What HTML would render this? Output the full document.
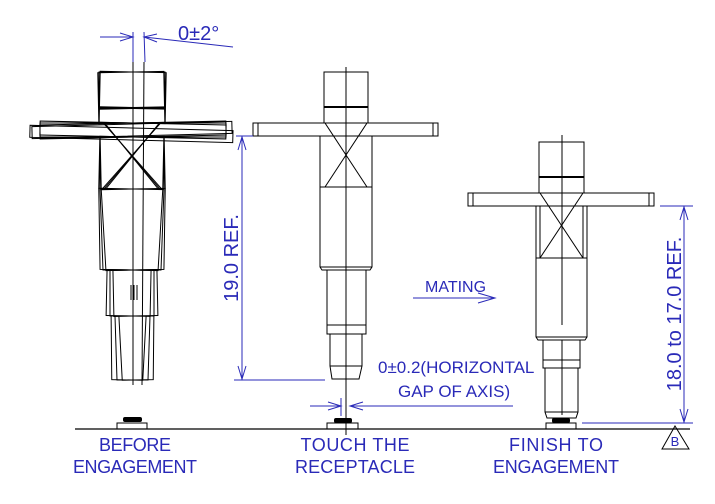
<!DOCTYPE html>
<html><head><meta charset="utf-8"><style>
html,body{margin:0;padding:0;background:#fff;}
svg{display:block;}
text{font-family:"Liberation Sans",sans-serif;fill:#2a2ab8;}
</style></head><body>
<svg width="715" height="504" viewBox="0 0 715 504" xmlns="http://www.w3.org/2000/svg">
<defs>
<g id="lc" fill="none" stroke="#000" stroke-width="1">
  <rect x="99" y="72" width="66" height="51"/>
  <line x1="99" y1="108" x2="165" y2="108" stroke-width="2"/>
  <rect x="40" y="123" width="186" height="14"/>
  <rect x="100" y="137" width="64" height="52"/>
  <line x1="104" y1="123" x2="160" y2="189"/>
  <line x1="160" y1="123" x2="104" y2="189"/>
  <path d="M100 189 L103 270 L161 270 L164 189"/>
  <rect x="110" y="270" width="44" height="46"/>
  <path d="M115 316 L117 380 L148 380 L150 316"/>
</g>
</defs>
<line x1="75" y1="429" x2="690" y2="429" stroke="#000" stroke-width="1.2"/>

<!-- LEFT connector -->
<use href="#lc" transform="rotate(-1.2 133 130)"/>
<use href="#lc" transform="rotate(1.2 133 130)"/>
<use href="#lc"/>
<g stroke="#000" fill="none" stroke-width="1">
  <rect x="30" y="128" width="203" height="12" transform="rotate(1.5 133 130)"/>
  <rect x="32" y="124" width="200" height="12" transform="rotate(-1.5 133 130)"/>
  <line x1="133" y1="62" x2="133" y2="385"/>
  <line x1="144" y1="62" x2="142" y2="385"/>
  <line x1="131" y1="285" x2="131" y2="300"/>
  <line x1="134" y1="285" x2="134" y2="300"/>
  <line x1="137" y1="285" x2="137" y2="300"/>
  <rect x="117" y="423" width="30" height="6"/>
</g>
<rect x="123" y="417" width="19" height="5" rx="2" fill="#000"/>
<g stroke="#2a2ab8" fill="none" stroke-width="1">
  <line x1="133" y1="32" x2="133" y2="62"/>
  <line x1="144" y1="32" x2="145" y2="62"/>
  <line x1="100" y1="37" x2="133" y2="37"/>
  <path d="M120 33 L133 37 L120 41"/>
  <line x1="144" y1="37" x2="233" y2="47"/>
  <path d="M157 34 L144 37 L157 42"/>
</g>
<text x="178" y="40" font-size="20">0±2°</text>

<!-- MIDDLE connector -->
<g stroke="#000" fill="none" stroke-width="1">
  <rect x="324" y="72" width="44" height="51"/>
  <line x1="324" y1="107" x2="368" y2="107" stroke-width="2"/>
  <rect x="253" y="123" width="185" height="13"/>
  <line x1="258" y1="123" x2="258" y2="136"/>
  <line x1="433" y1="123" x2="433" y2="136"/>
  <path d="M320 136 L320 187 L372 187 L372 136"/>
  <line x1="325" y1="123" x2="367" y2="187"/>
  <line x1="367" y1="123" x2="325" y2="187"/>
  <path d="M320 187 L320 267 L322 270 L370 270 L372 267 L372 187"/>
  <line x1="320" y1="267" x2="372" y2="267"/>
  <rect x="327" y="270" width="39" height="55"/>
  <rect x="327" y="325" width="39" height="9"/>
  <path d="M330 334 L330 366 L332 379 L359 379 L362 366 L362 334"/>
  <line x1="330" y1="366" x2="362" y2="366"/>
  <line x1="346" y1="67" x2="346" y2="435"/>
  <rect x="327" y="423" width="31" height="6"/>
</g>
<rect x="334" y="418" width="18" height="5" rx="2" fill="#000"/>

<g stroke="#2a2ab8" fill="none" stroke-width="1">
  <line x1="242" y1="136" x2="242" y2="380"/>
  <line x1="236" y1="136" x2="253" y2="136"/>
  <line x1="234" y1="380" x2="325" y2="380"/>
  <path d="M238 150 L242 137 L246 150"/>
  <path d="M238 366 L242 379 L246 366"/>
</g>
<text transform="translate(238 258) rotate(-90)" font-size="20" text-anchor="middle">19.0 REF.</text>

<text x="425" y="292" font-size="16">MATING</text>
<g stroke="#2a2ab8" fill="none" stroke-width="1">
  <line x1="413" y1="298" x2="495" y2="298"/>
  <path d="M478 293 L495 298 L478 303"/>
</g>

<text x="378" y="373" font-size="17">0±0.2(HORIZONTAL</text>
<text x="398" y="397" font-size="17">GAP OF AXIS)</text>
<g stroke="#2a2ab8" fill="none" stroke-width="1">
  <line x1="310" y1="406" x2="341" y2="406"/>
  <line x1="350" y1="406" x2="513" y2="406"/>
  <path d="M328 402 L341 406 L328 410"/>
  <path d="M363 402 L350 406 L363 410"/>
  <line x1="341" y1="398" x2="341" y2="416"/>
</g>

<!-- RIGHT connector -->
<g stroke="#000" fill="none" stroke-width="1">
  <rect x="539" y="142" width="45" height="51"/>
  <line x1="539" y1="177" x2="584" y2="177" stroke-width="2"/>
  <rect x="468" y="193" width="186" height="13"/>
  <line x1="473" y1="193" x2="473" y2="206"/>
  <line x1="649" y1="193" x2="649" y2="206"/>
  <path d="M536 206 L536 258 L587 258 L587 206"/>
  <line x1="540" y1="206" x2="540" y2="258"/>
  <line x1="583" y1="206" x2="583" y2="258"/>
  <line x1="540" y1="193" x2="583" y2="258"/>
  <line x1="583" y1="193" x2="540" y2="258"/>
  <path d="M536 258 L536 337 L538 340 L585 340 L587 337 L587 258"/>
  <line x1="536" y1="337" x2="587" y2="337"/>
  <rect x="543" y="340" width="37" height="20"/>
  <rect x="543" y="360" width="37" height="8"/>
  <path d="M545 368 L545 412 L547 418 L576 418 L578 412 L578 368"/>
  <line x1="545" y1="412" x2="578" y2="412"/>
  <line x1="562" y1="135" x2="562" y2="325"/>
  <line x1="562" y1="340" x2="562" y2="415"/>
  <rect x="546" y="423" width="30" height="6"/>
</g>
<rect x="552" y="418" width="18" height="5" rx="2" fill="#000"/>

<g stroke="#2a2ab8" fill="none" stroke-width="1">
  <line x1="684" y1="206" x2="684" y2="423"/>
  <line x1="660" y1="206" x2="693" y2="206"/>
  <line x1="582" y1="423" x2="693" y2="423"/>
  <path d="M680 220 L684 207 L688 220"/>
  <path d="M680 409 L684 422 L688 409"/>
</g>
<text transform="translate(681 314) rotate(-90)" font-size="20" text-anchor="middle">18.0 to 17.0 REF.</text>
<path d="M662 449 L675 426 L689 449 Z" fill="none" stroke="#000" stroke-width="1"/>
<text x="675" y="446" font-size="13" text-anchor="middle">B</text>

<text x="135" y="451" font-size="18" text-anchor="middle" textLength="72">BEFORE</text>
<text x="135" y="473" font-size="18" text-anchor="middle" textLength="124">ENGAGEMENT</text>
<text x="355" y="451" font-size="18" text-anchor="middle" textLength="109">TOUCH THE</text>
<text x="355" y="473" font-size="18" text-anchor="middle" textLength="120">RECEPTACLE</text>
<text x="556" y="451" font-size="18" text-anchor="middle" textLength="94">FINISH TO</text>
<text x="556" y="473" font-size="18" text-anchor="middle" textLength="126">ENGAGEMENT</text>
</svg>
</body></html>
